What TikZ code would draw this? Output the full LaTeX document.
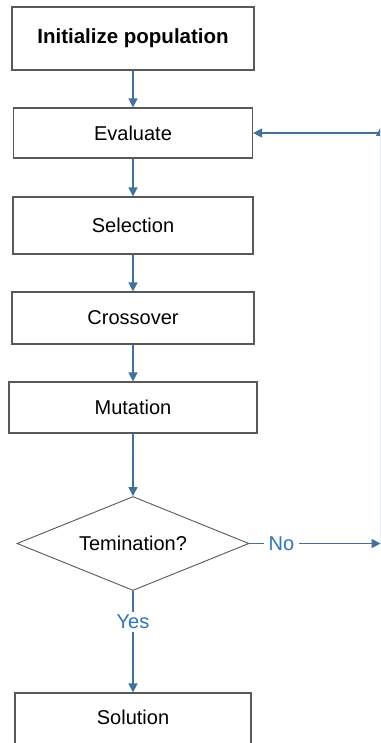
\documentclass[tikz,border=0pt]{standalone}
\usepackage{fontspec}
\setmainfont{Liberation Sans}
\usetikzlibrary{shapes.geometric,arrows.meta}
\definecolor{flowblue}{HTML}{41719C}
\definecolor{lblblue}{HTML}{2E75B6}
\definecolor{boxgray}{HTML}{595959}
\begin{document}
\begin{tikzpicture}[x=1pt,y=-1pt,
  txt/.style={font=\fontsize{20}{24}\selectfont},
  box/.style={draw=boxgray,line width=1.2pt,fill=white,inner sep=0pt,txt},
  flow/.style={draw=flowblue,line width=1.4pt,-{Triangle[length=9pt,width=9pt]}},
  lbl/.style={fill=white,text=lblblue,inner xsep=5pt,inner ysep=3pt,font=\fontsize{20}{24}\selectfont}]
\useasboundingbox (0,0) rectangle (380,743);
\clip (0,0) rectangle (380,743);
\fill[white] (0,0) rectangle (380,743);
\node[box,minimum width=242pt,minimum height=63pt,font=\bfseries\fontsize{20.5}{24}\selectfont] (init) at (133,38.5) {Initialize population};
\node[box,minimum width=239pt,minimum height=50pt] (eval) at (133,133) {Evaluate};
\node[box,minimum width=240pt,minimum height=57pt] (sel) at (133,225.5) {Selection};
\node[box,minimum width=242pt,minimum height=52pt] (cross) at (133,318) {Crossover};
\node[box,minimum width=248pt,minimum height=51pt] (mut) at (133,407.5) {Mutation};
\node[draw=boxgray,line width=0.9pt,diamond,aspect=2.47,minimum width=232pt,minimum height=94pt,inner sep=0pt,txt] (dec) at (133,543.5) {Temination?};
\node[box,minimum width=236pt,minimum height=80pt] (sol) at (133,733) {};
\node[txt] (soltxt) at (133,717) {Solution};
\coordinate (nocorner) at (380.6,543.5);
\coordinate (evtip) at (380.6,127);
\coordinate (evcorner) at (380.6,133);
\draw[flow] (init) -- (eval);
\draw[flow] (eval) -- (sel);
\draw[flow] (sel) -- (cross);
\draw[flow] (cross) -- (mut);
\draw[flow] (mut) -- (dec);
\draw[flow] (dec.south) -- node[lbl,pos=0.304]{Yes} (sol.north);
\draw[flow] (dec.east) -- node[lbl,pos=0.244]{No} (nocorner);
\draw[flow] (nocorner) -- (evtip);
\draw[flow] (evcorner) -- (eval.east);
\end{tikzpicture}
\end{document}
